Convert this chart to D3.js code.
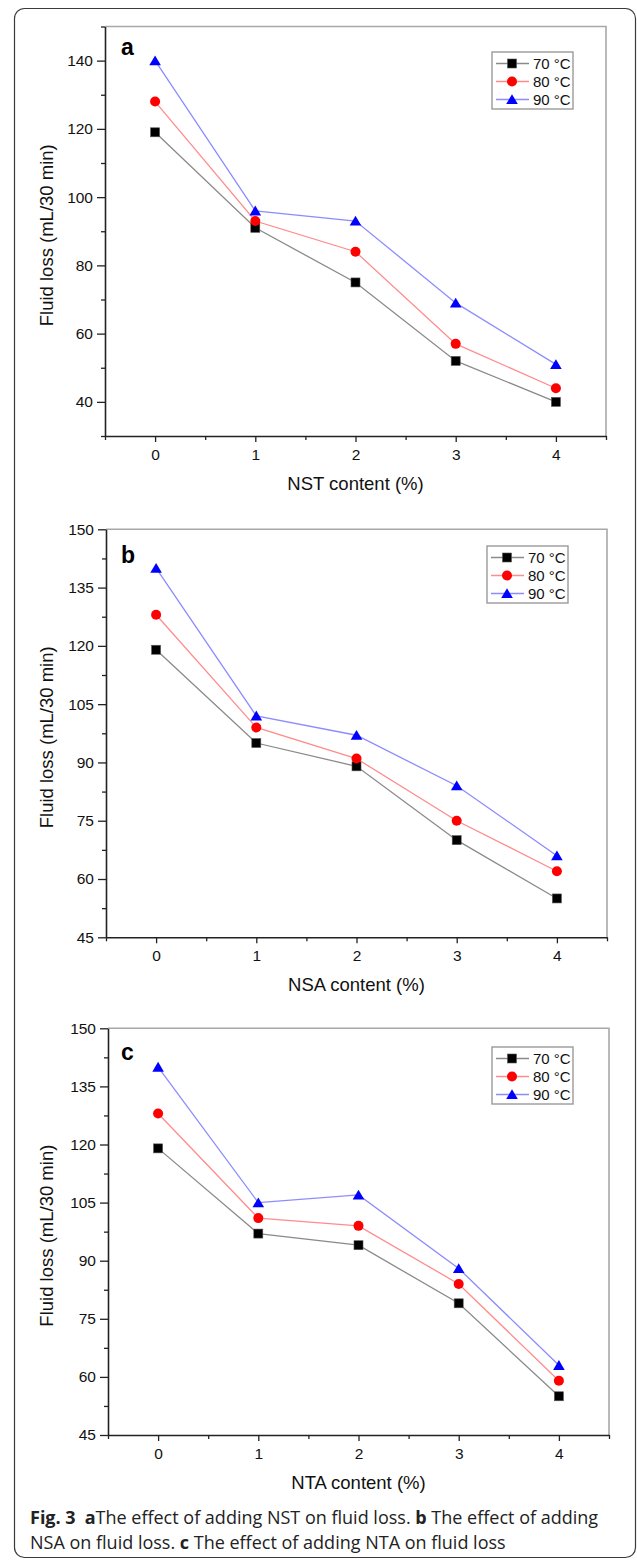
<!DOCTYPE html>
<html>
<head>
<meta charset="utf-8">
<script src="https://cdn.jsdelivr.net/npm/d3@7"></script>
<style>
    body { margin: 0; background: #fff; }
    svg text { font-family: "Liberation Sans", Arial, sans-serif; }
</style>
</head>
<body>
<div id="figure"></div>
<script>
// Content of additive (%)
const contents = [0, 1, 2, 3, 4];
const seriesLabels = ["70 °C", "80 °C", "90 °C"];

// Fluid loss (mL/30 min) - panel a, NST
const nst70 = [119, 91, 75, 52, 40];
const nst80 = [128, 93, 84, 57, 44];
const nst90 = [140, 96, 93, 69, 51];

// panel b, NSA
const nsa70 = [119, 95, 89, 70, 55];
const nsa80 = [128, 99, 91, 75, 62];
const nsa90 = [140, 102, 97, 84, 66];

// panel c, NTA
const nta70 = [119, 97, 94, 79, 55];
const nta80 = [128, 101, 99, 84, 59];
const nta90 = [140, 105, 107, 88, 63];

// Tick labels
const xTicks = [0, 1, 2, 3, 4];
const yTicksA = [40, 60, 80, 100, 120, 140];
const yTicksBC = [45, 60, 75, 90, 105, 120, 135, 150];

const panelLetters = ["a", "b", "c"];
const xTitles = ["NST content (%)", "NSA content (%)", "NTA content (%)"];
const yTitle = "Fluid loss (mL/30 min)";

// Series styles: line colour, marker colour, marker type
const styles = [
    { line: "#8a8a8a", fill: "#000000", shape: "square" },
    { line: "#ff8c8c", fill: "#ff0000", shape: "circle" },
    { line: "#8c8cff", fill: "#0000ff", shape: "triangle" }
];

// Panel layout
const panels = [
    { letter: panelLetters[0], xTitle: xTitles[0], series: [nst70, nst80, nst90],
      yDomain: [30, 150], yTicks: yTicksA, yStep: 20,
      left: 105, right: 606, top: 26.5, bottom: 436, legendX: 492, legendY: 52, letterY: 55 },
    { letter: panelLetters[1], xTitle: xTitles[1], series: [nsa70, nsa80, nsa90],
      yDomain: [45, 150], yTicks: yTicksBC, yStep: 15,
      left: 106, right: 607, top: 529.3, bottom: 937.3, legendX: 487, legendY: 546, letterY: 562.5 },
    { letter: panelLetters[2], xTitle: xTitles[2], series: [nta70, nta80, nta90],
      yDomain: [45, 150], yTicks: yTicksBC, yStep: 15,
      left: 108, right: 609, top: 1028.3, bottom: 1435, legendX: 492, legendY: 1047, letterY: 1060 }
];

const svg = d3.select("#figure").append("svg")
    .attr("width", 637)
    .attr("height", 1560);

// Outer rounded frame
svg.append("rect")
    .attr("x", 14.5)
    .attr("y", 8.5)
    .attr("width", 621)
    .attr("height", 1549)
    .attr("rx", 10)
    .attr("fill", "none")
    .attr("stroke", "#3a3a3a")
    .attr("stroke-width", 1.2);

function drawMarker(g, shape, cx, cy, fill) {
    if (shape === "square") {
        g.append("rect")
            .attr("x", cx - 4.5)
            .attr("y", cy - 4.5)
            .attr("width", 9)
            .attr("height", 9)
            .attr("fill", fill)
            .attr("stroke", "#555")
            .attr("stroke-width", 0.6);
    } else if (shape === "circle") {
        g.append("circle")
            .attr("cx", cx)
            .attr("cy", cy)
            .attr("r", 5)
            .attr("fill", fill);
    } else {
        g.append("path")
            .attr("d", `M ${cx - 5.8},${cy + 4.6} L ${cx + 5.8},${cy + 4.6} L ${cx},${cy - 5.2} Z`)
            .attr("fill", fill);
    }
}

panels.forEach(p => {
    const g = svg.append("g");

    const x = d3.scaleLinear()
        .domain([-0.5, 4.5])
        .range([p.left, p.right]);

    const y = d3.scaleLinear()
        .domain(p.yDomain)
        .range([p.bottom, p.top]);

    // Grey top/right frame
    g.append("path")
        .attr("d", `M ${p.left},${p.top} L ${p.right},${p.top} L ${p.right},${p.bottom}`)
        .attr("fill", "none")
        .attr("stroke", "#a8a8a8")
        .attr("stroke-width", 1.6);

    // Minor ticks
    const yMinor = d3.range(p.yDomain[0], p.yDomain[1] + 0.01, p.yStep / 2)
        .filter(v => !p.yTicks.includes(v));
    const xMinor = d3.range(-0.5, 4.51, 1);

    g.append("g")
        .attr("transform", `translate(${p.left},0)`)
        .call(d3.axisLeft(y).tickValues(yMinor).tickSize(4).tickFormat(""))
        .call(a => a.select(".domain").remove())
        .selectAll("line").attr("stroke", "#222").attr("stroke-width", 1.3);

    g.append("g")
        .attr("transform", `translate(0,${p.bottom})`)
        .call(d3.axisBottom(x).tickValues(xMinor).tickSize(4).tickFormat(""))
        .call(a => a.select(".domain").remove())
        .selectAll("line").attr("stroke", "#222").attr("stroke-width", 1.3);

    // Y axis
    const yAxis = g.append("g")
        .attr("transform", `translate(${p.left},0)`)
        .call(d3.axisLeft(y).tickValues(p.yTicks).tickSize(8).tickSizeOuter(0).tickPadding(4));
    yAxis.select(".domain").attr("stroke", "#222").attr("stroke-width", 1.6);
    yAxis.selectAll("line").attr("stroke", "#222").attr("stroke-width", 1.3);
    yAxis.selectAll("text")
        .attr("font-size", "15.5px")
        .attr("fill", "#111")
        .attr("font-family", "'Liberation Sans', Arial, sans-serif");

    // X axis
    const xAxis = g.append("g")
        .attr("transform", `translate(0,${p.bottom})`)
        .call(d3.axisBottom(x).tickValues(xTicks).tickFormat(d3.format("d"))
            .tickSize(6).tickSizeOuter(0).tickPadding(7));
    xAxis.select(".domain").attr("stroke", "#222").attr("stroke-width", 1.6);
    xAxis.selectAll("line").attr("stroke", "#222").attr("stroke-width", 1.3);
    xAxis.selectAll("text")
        .attr("font-size", "15.5px")
        .attr("fill", "#111")
        .attr("font-family", "'Liberation Sans', Arial, sans-serif");

    // Axis titles
    g.append("text")
        .attr("x", (p.left + p.right) / 2)
        .attr("y", p.bottom + 54)
        .attr("text-anchor", "middle")
        .attr("font-size", "18.5px")
        .attr("fill", "#111")
        .text(p.xTitle);

    g.append("text")
        .attr("transform", `translate(53,${(p.top + p.bottom) / 2 + 4}) rotate(-90)`)
        .attr("text-anchor", "middle")
        .attr("font-size", "18.5px")
        .attr("fill", "#111")
        .text(yTitle);

    // Panel letter
    g.append("text")
        .attr("x", 121)
        .attr("y", p.letterY)
        .attr("font-size", "23px")
        .attr("font-weight", "bold")
        .attr("fill", "#000")
        .text(p.letter);

    // Series lines and markers
    const line = d3.line()
        .x((d, i) => x(contents[i]))
        .y(d => y(d));

    p.series.forEach((values, si) => {
        g.append("path")
            .datum(values)
            .attr("d", line)
            .attr("fill", "none")
            .attr("stroke", styles[si].line)
            .attr("stroke-width", 1.3);
    });

    p.series.forEach((values, si) => {
        values.forEach((v, i) => {
            drawMarker(g, styles[si].shape, x(contents[i]), y(v), styles[si].fill);
        });
    });

    // Legend
    const legend = g.append("g")
        .attr("transform", `translate(${p.legendX},${p.legendY})`);

    legend.append("rect")
        .attr("x", 0)
        .attr("y", 0)
        .attr("width", 81)
        .attr("height", 57)
        .attr("fill", "#fff")
        .attr("stroke", "#9a9a9a")
        .attr("stroke-width", 1.4);

    seriesLabels.forEach((label, i) => {
        const yPos = 11.5 + i * 18;
        legend.append("line")
            .attr("x1", 4)
            .attr("x2", 37)
            .attr("y1", yPos)
            .attr("y2", yPos)
            .attr("stroke", styles[i].line)
            .attr("stroke-width", 1.3);
        drawMarker(legend, styles[i].shape, 20, yPos, styles[i].fill);
        legend.append("text")
            .attr("x", 41)
            .attr("y", yPos + 5.5)
            .attr("font-size", "15px")
            .attr("fill", "#111")
            .text(label);
    });
});

// Caption (two lines)
const caption = svg.append("g")
    .attr("font-size", "18px")
    .attr("fill", "#222");

const line1 = caption.append("text")
    .attr("x", 30)
    .attr("y", 1523.5)
    .style("font-family", "'Open Sans', 'Noto Sans', sans-serif");
line1.append("tspan").attr("font-weight", "bold").text("Fig. 3");
line1.append("tspan").attr("dx", 9).attr("font-weight", "bold").text("a");
line1.append("tspan").text("The effect of adding NST on fluid loss. ");
line1.append("tspan").attr("font-weight", "bold").text("b");
line1.append("tspan").text(" The effect of adding");

const line2 = caption.append("text")
    .attr("x", 30)
    .attr("y", 1548.5)
    .style("font-family", "'Open Sans', 'Noto Sans', sans-serif");
line2.append("tspan").text("NSA on fluid loss. ");
line2.append("tspan").attr("font-weight", "bold").text("c");
line2.append("tspan").text(" The effect of adding NTA on fluid loss");
</script>
</body>
</html>
